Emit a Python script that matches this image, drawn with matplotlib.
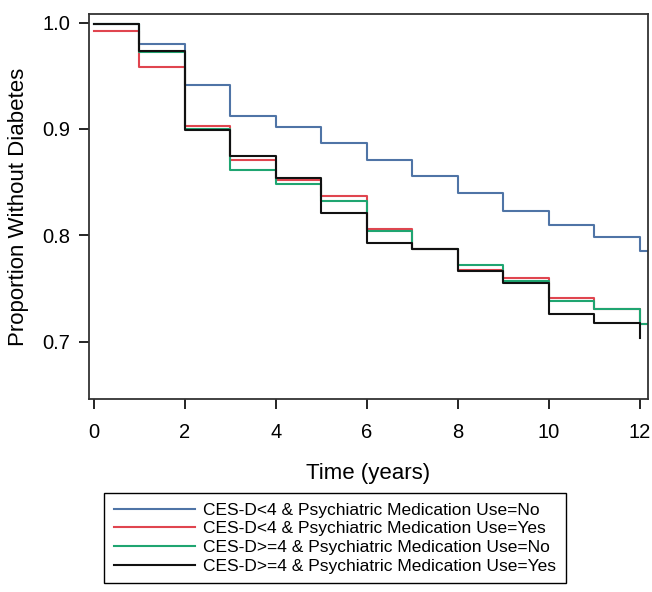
import matplotlib as mpl
mpl.use('Agg')
import matplotlib.pyplot as plt
import numpy as np

plt.rcParams['font.family'] = ['Liberation Sans', 'DejaVu Sans']

# yearly Kaplan-Meier estimates (value holds from t to t+1)
years = [0, 1, 2, 3, 4, 5, 6, 7, 8, 9, 10, 11, 12]
end_followup = 12.18      # last curves run to the edge of follow-up
end_black = 12.02

surv_nodep_nomed = [0.999, 0.980, 0.941, 0.912, 0.902, 0.887, 0.871, 0.856,
                    0.8395, 0.823, 0.810, 0.798, 0.7855]
surv_nodep_med = [0.992, 0.958, 0.903, 0.871, 0.852, 0.837, 0.806, 0.787,
                  0.767, 0.7596, 0.7407, 0.731, 0.717]
surv_dep_nomed = [0.999, 0.972, 0.900, 0.8614, 0.848, 0.8325, 0.804, 0.787,
                  0.772, 0.757, 0.7385, 0.7304, 0.7166]
surv_dep_med = [0.9988, 0.9734, 0.899, 0.8746, 0.8536, 0.8207, 0.7925, 0.787,
                0.766, 0.7554, 0.7257, 0.7172, 0.703]

labels = ['CES-D<4 & Psychiatric Medication Use=No',
          'CES-D<4 & Psychiatric Medication Use=Yes',
          'CES-D>=4 & Psychiatric Medication Use=No',
          'CES-D>=4 & Psychiatric Medication Use=Yes']
colors = ['#4f74a6', '#e0454f', '#1fa571', '#111111']

fig = plt.figure(figsize=(6.52, 5.92), dpi=100)
ax = fig.add_axes([0.137, 0.3255, 0.8564, 0.651])

series = [surv_nodep_nomed, surv_nodep_med, surv_dep_nomed, surv_dep_med]
ends = [end_followup, end_followup, end_followup, end_black]
for s, lab, c, e in zip(series, labels, colors, ends):
  t = np.array(years + [e], dtype=float)
  v = np.array(s + [s[-1]], dtype=float)
  ax.step(t, v, where='post', color=c, lw=1.5, label=lab)

ax.set_xlim(-0.1, 12.18)
ax.set_ylim(0.6457, 1.0082)
ax.set_xticks(range(0, 13, 2))
ax.set_yticks([0.7, 0.8, 0.9, 1.0])
ax.set_yticklabels(['0.7', '0.8', '0.9', '1.0'])
ax.tick_params(axis='x', labelsize=14.5, length=7, width=1.2, pad=10, direction='out')
ax.tick_params(axis='y', labelsize=14.5, length=7, width=1.2, pad=6.5, direction='out')
for sp in ax.spines.values():
  sp.set_linewidth(1.3)
  sp.set_color('#333333')

ax.set_xlabel('Time (years)', fontsize=16, labelpad=15)
ax.set_ylabel('Proportion Without Diabetes', fontsize=16, labelpad=10)

leg = fig.legend(loc='upper left', bbox_to_anchor=(0.1595, 0.1672), fontsize=12.5,
                 handlelength=4.7, handletextpad=0.46, labelspacing=0.2,
                 borderpad=0.55, borderaxespad=0, fancybox=False, framealpha=1,
                 edgecolor='black')
leg.get_frame().set_linewidth(1.0)

plt.savefig('out.png', dpi=100)
